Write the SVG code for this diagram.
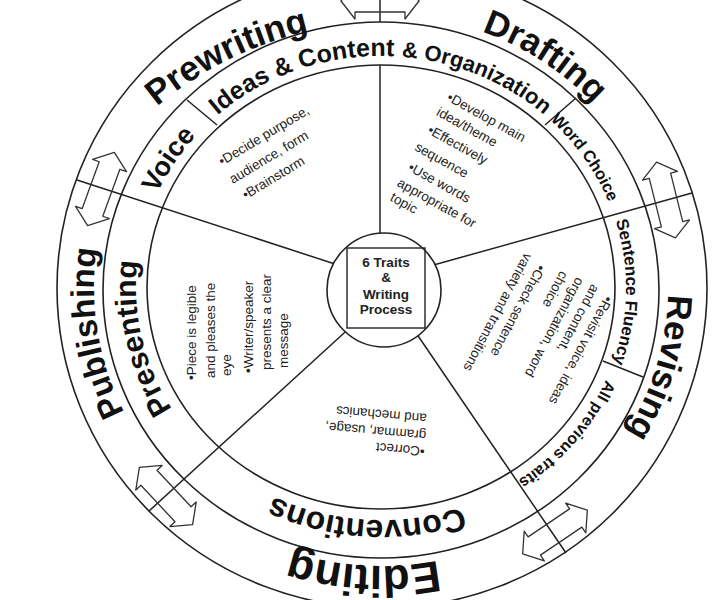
<svg xmlns="http://www.w3.org/2000/svg" width="727" height="600" viewBox="0 0 727 600">
<style>
.ring{fill:none;stroke:#222;stroke-width:1.6}
.ln{fill:none;stroke:#222;stroke-width:1.5}
.arr{fill:none;stroke:#333;stroke-width:1.3;stroke-linejoin:round}
.big{font-family:"Liberation Sans",Arial,sans-serif;font-weight:bold;fill:#111;text-anchor:middle}
.b{font-family:"Liberation Sans",Arial,sans-serif;font-size:13.5px;fill:#222}
.hubt{font-family:"Liberation Sans",Arial,sans-serif;font-size:13.5px;font-weight:bold;text-anchor:middle;fill:#222}
</style>
<defs>
<path id="pPre" d="M88.7,183.0 A360,360 0 0,1 411.1,22.9"/>
<path id="pDra" d="M259.7,39.7 A287,274 0 0,1 666.9,311.9"/>
<path id="pRev" d="M587.4,94.9 A287,278 0 0,1 450.4,557.7"/>
<path id="pEdi" d="M620.3,441.4 A287,278 0 0,1 124.2,412.0"/>
<path id="pPub" d="M278.1,547.5 A287,278 0 0,1 200.4,72.0"/>
<path id="pIde" d="M139.7,247.7 A245,232 0 0,1 538.5,110.3"/>
<path id="pOrg" d="M237.0,100.3 A245,232 0 0,1 624.7,263.7"/>
<path id="pWor" d="M368.2,56.3 A245,232 0 0,1 599.3,393.3"/>
<path id="pSen" d="M507.2,89.1 A245,232 0 0,1 499.8,490.9"/>
<path id="pAll" d="M608.2,201.1 A245,232 0 0,1 346.9,517.7"/>
<path id="pCon" d="M585.3,416.1 A245,232 0 0,1 161.7,391.5"/>
<path id="pPrs" d="M305.3,508.6 A245,232 0 0,1 217.1,115.6"/>
<path id="pVoi" d="M165.7,398.7 A245,232 0 0,1 387.4,56.1"/>
<path id="arrow" d="M-39,0 L-25,-18 L-25,-11 L25,-11 L25,-18 L39,0 L25,18 L25,11 L-25,11 L-25,18 Z"/>
</defs>
<rect width="727" height="600" fill="#fff"/>
<g id="rings">
<ellipse class="ring" cx="382" cy="288" rx="325" ry="320"/>
<ellipse class="ring" cx="381" cy="290" rx="278" ry="268"/>
<ellipse class="ring" cx="381" cy="287" rx="234" ry="222"/>
</g>
<g id="connectors">
<line class="ln" x1="380" y1="240" x2="380" y2="65"/>
<line class="ln" x1="380" y1="22" x2="380" y2="-40"/>
<line class="ln" x1="430" y1="266" x2="692" y2="193"/>
<line class="ln" x1="410" y1="324" x2="566" y2="553"/>
<line class="ln" x1="355" y1="323" x2="149" y2="511"/>
<line class="ln" x1="338" y1="265" x2="77" y2="180"/>
<line class="ln" x1="187" y1="100" x2="217" y2="125"/>
<line class="ln" x1="545" y1="125" x2="576" y2="98"/>
<line class="ln" x1="603" y1="361" x2="643" y2="377"/>
<use href="#arrow" class="arr" transform="translate(380,1)"/>
<use href="#arrow" class="arr" transform="translate(666,200) rotate(76)"/>
<use href="#arrow" class="arr" transform="translate(555,532) rotate(146)"/>
<use href="#arrow" class="arr" transform="translate(166,496) rotate(47)"/>
<use href="#arrow" class="arr" transform="translate(101,189) rotate(110)"/>
</g>
<g id="hub">
<circle cx="384" cy="290" r="57" fill="#fff" stroke="#222" stroke-width="1.6"/>
<rect x="347" y="248" width="78" height="80" fill="none" stroke="#222" stroke-width="1.4"/>
<text class="hubt" x="386" y="267">6 Traits</text>
<text class="hubt" x="386" y="282">&amp;</text>
<text class="hubt" x="386" y="299">Writing</text>
<text class="hubt" x="386" y="314">Process</text>
</g>
<g id="prewriting"><text class="big" font-size="35"><textPath href="#pPre" startOffset="50%">Prewriting</textPath></text></g>
<g id="drafting"><text class="big" font-size="35"><textPath href="#pDra" startOffset="50%">Drafting</textPath></text></g>
<g id="revising"><text class="big" font-size="35"><textPath href="#pRev" startOffset="50%">Revising</textPath></text></g>
<g id="editing"><text class="big" font-size="44"><textPath href="#pEdi" startOffset="50%">Editing</textPath></text></g>
<g id="publishing"><text class="big" font-size="33"><textPath href="#pPub" startOffset="50%">Publishing</textPath></text></g>
<g id="ideas-content"><text class="big" font-size="25"><textPath href="#pIde" startOffset="50%">Ideas &amp; Content</textPath></text></g>
<g id="organization"><text class="big" font-size="22"><textPath href="#pOrg" startOffset="50%">&amp; Organization</textPath></text></g>
<g id="word-choice"><text class="big" font-size="16.5"><textPath href="#pWor" startOffset="50%">Word Choice</textPath></text></g>
<g id="sentence-fluency"><text class="big" font-size="17"><textPath href="#pSen" startOffset="50%">Sentence Fluency</textPath></text></g>
<g id="all-previous-traits"><text class="big" font-size="16"><textPath href="#pAll" startOffset="50.5%">All previous traits</textPath></text></g>
<g id="conventions"><text class="big" font-size="32"><textPath href="#pCon" startOffset="50%">Conventions</textPath></text></g>
<g id="presenting"><text class="big" font-size="30"><textPath href="#pPrs" startOffset="50%">Presenting</textPath></text></g>
<g id="voice"><text class="big" font-size="27"><textPath href="#pVoi" startOffset="50%">Voice</textPath></text></g>
<g id="sector-prewriting" transform="translate(222,166) rotate(-31)">
<text class="b" x="0" y="0">•Decide purpose,</text>
<text class="b" x="0" y="21">audience, form</text>
<text class="b" x="3" y="41">•Brainstorm</text>
</g>
<g id="sector-drafting" transform="translate(446,100) rotate(29)">
<text class="b" x="0" y="0">•Develop main</text>
<text class="b" x="-2" y="18">idea/theme</text>
<text class="b" x="-1" y="38">•Effectively</text>
<text class="b" x="-4" y="59">sequence</text>
<text class="b" x="0" y="80">•Use words</text>
<text class="b" x="-2" y="99">appropriate for</text>
<text class="b" x="-1" y="115">topic</text>
</g>
<g id="sector-revising" transform="translate(605,295) rotate(118)">
<text class="b" x="0" y="0">•Revisit voice, ideas</text>
<text class="b" x="-4" y="17">and content,</text>
<text class="b" x="-3" y="34">organization, word</text>
<text class="b" x="-1" y="51">choice</text>
<text class="b" x="4" y="74">•Check sentence</text>
<text class="b" x="0" y="91">variety and transitions</text>
</g>
<g id="sector-editing" transform="translate(425,447) rotate(185)">
<text class="b" x="0" y="0">•Correct</text>
<text class="b" x="0" y="16">grammar, usage,</text>
<text class="b" x="1" y="33">and mechanics</text>
</g>
<g id="sector-publishing" transform="translate(196,380) rotate(-90)">
<text class="b" x="0" y="0">•Piece is legible</text>
<text class="b" x="2" y="19">and pleases the</text>
<text class="b" x="4" y="35">eye</text>
<text class="b" x="7" y="57">•Writer/speaker</text>
<text class="b" x="10" y="75">presents a clear</text>
<text class="b" x="12" y="92">message</text>
</g>
</svg>
